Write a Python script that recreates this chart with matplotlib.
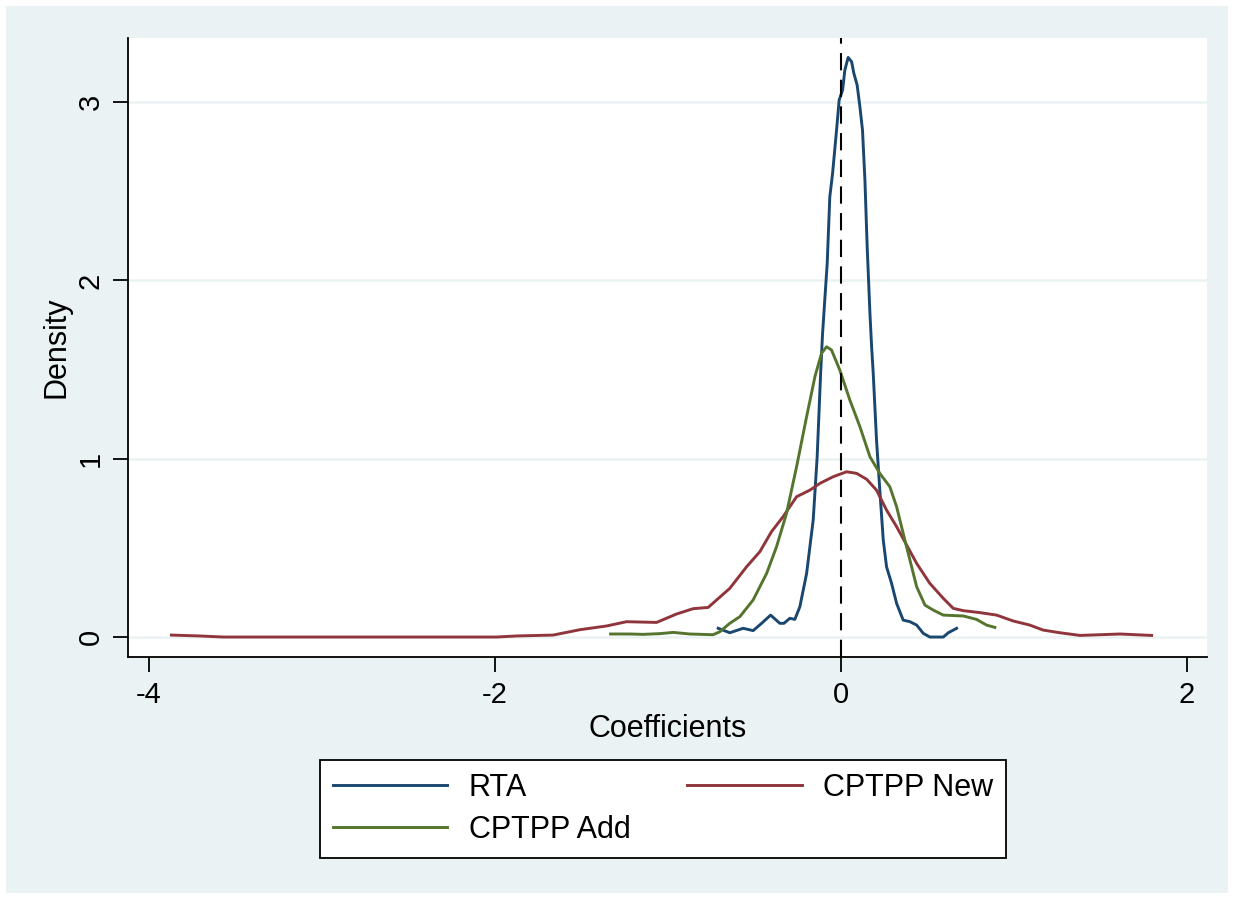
import matplotlib
matplotlib.use("Agg")
import matplotlib.pyplot as plt
from matplotlib.patches import Rectangle

plt.rcParams['font.family'] = ['Liberation Sans', 'DejaVu Sans']

# kernel density curves
rta_x = [-0.709, -0.642, -0.565, -0.507, -0.458, -0.406, -0.353, -0.329, -0.295, -0.266,
         -0.237, -0.198, -0.160, -0.137, -0.117, -0.106, -0.079, -0.064, -0.048,
         -0.025, -0.010, 0.010, 0.023, 0.042, 0.062, 0.075, 0.094, 0.110, 0.125, 0.139,
         0.152, 0.168, 0.177, 0.187, 0.206, 0.225, 0.245, 0.264, 0.293, 0.322, 0.360,
         0.399, 0.438, 0.476, 0.514, 0.592, 0.621, 0.669]
rta_y = [0.049, 0.024, 0.049, 0.036, 0.077, 0.123, 0.077, 0.077, 0.105, 0.099,
         0.170, 0.357, 0.656, 1.011, 1.479, 1.700, 2.096, 2.469, 2.600,
         2.843, 3.012, 3.068, 3.180, 3.251, 3.227, 3.162, 3.096, 2.974, 2.843, 2.563,
         2.189, 1.815, 1.640, 1.479, 1.105, 0.824, 0.544, 0.394, 0.301, 0.189, 0.095,
         0.086, 0.067, 0.021, 0.0, 0.0, 0.024, 0.049]

add_x = [-1.331, -1.220, -1.143, -1.046, -0.969, -0.873, -0.738, -0.699, -0.642, -0.584,
         -0.507, -0.429, -0.372, -0.314, -0.256, -0.198, -0.150, -0.112, -0.083, -0.054,
         -0.006, 0.052, 0.110, 0.168, 0.225, 0.283, 0.322, 0.360, 0.399, 0.438, 0.486,
         0.534, 0.592, 0.708, 0.784, 0.842, 0.890]
add_y = [0.017, 0.017, 0.015, 0.019, 0.026, 0.017, 0.013, 0.030, 0.077, 0.114,
         0.208, 0.357, 0.506, 0.694, 0.955, 1.236, 1.460, 1.591, 1.628, 1.610,
         1.497, 1.329, 1.180, 1.011, 0.918, 0.843, 0.731, 0.582, 0.432, 0.282, 0.179,
         0.151, 0.123, 0.118, 0.099, 0.067, 0.054]

new_x = [-3.869, -3.705, -3.570, -3.0, -2.5, -1.990, -1.875, -1.663, -1.509, -1.354,
         -1.239, -1.065, -0.950, -0.854, -0.767, -0.718, -0.642, -0.545, -0.468, -0.401,
         -0.334, -0.256, -0.179, -0.121, -0.045, 0.033, 0.091, 0.149, 0.206, 0.264,
         0.322, 0.380, 0.438, 0.514, 0.592, 0.649, 0.707, 0.803, 0.900, 0.996, 1.092,
         1.169, 1.266, 1.382, 1.613, 1.796]
new_y = [0.011, 0.006, 0.0, 0.0, 0.0, 0.0, 0.006, 0.011, 0.041, 0.062,
         0.086, 0.082, 0.129, 0.159, 0.166, 0.208, 0.273, 0.394, 0.479, 0.591,
         0.675, 0.787, 0.824, 0.862, 0.899, 0.927, 0.918, 0.885, 0.824, 0.712,
         0.619, 0.516, 0.413, 0.301, 0.217, 0.161, 0.148, 0.137, 0.123, 0.090, 0.067,
         0.039, 0.024, 0.009, 0.017, 0.009]

x_ticks = [-4, -2, 0, 2]
y_ticks = [0, 1, 2, 3]

BG = "#EAF2F3"
NAVY, MAROON, GREEN = "#1a476f", "#90353b", "#55752f"
FS = 21

fig = plt.figure(figsize=(12.34, 8.99), dpi=100, facecolor="white")
fig.patches.append(Rectangle((6 / 1234, 6 / 899), 1 - 12 / 1234, 1 - 12 / 899,
                             transform=fig.transFigure, facecolor=BG, edgecolor="none", zorder=-10))

ax = fig.add_axes([128 / 1234, 1 - 657 / 899, (1207 - 128) / 1234, (657 - 38) / 899])
ax.set_facecolor("white")

for yv in y_ticks:
    ax.axhline(yv, color=BG, lw=1.8, zorder=0)

l1, = ax.plot(rta_x, rta_y, color=NAVY, lw=2.1, label="RTA")
l2, = ax.plot(new_x, new_y, color=MAROON, lw=2.1, label="CPTPP New")
l3, = ax.plot(add_x, add_y, color=GREEN, lw=2.1, label="CPTPP Add")
ax.axvline(0, color="black", lw=1.5, ls=(0, (8.3, 4.5)), zorder=5)

ax.set_xlim(-4.12, 2.116)
ax.set_ylim(-0.112, 3.36)
ax.set_xticks(x_ticks)
ax.set_yticks(y_ticks)
ax.set_xticklabels([str(v) if v >= 0 else "-" + str(-v) for v in x_ticks])
ax.tick_params(axis="both", direction="out", length=11, width=1.3, labelsize=FS, pad=6)
ax.tick_params(axis="y", labelrotation=90)
for lab in ax.get_yticklabels():
    lab.set_va("center")
for s in ["top", "right"]:
    ax.spines[s].set_visible(False)
for s in ["left", "bottom"]:
    ax.spines[s].set_linewidth(1.3)

ax.set_xlabel("Coefficients", fontsize=22, labelpad=4)
ax.set_ylabel("Density", fontsize=22, labelpad=3.5)

leg = fig.legend([l1, l3, l2], ["RTA", "CPTPP Add", "CPTPP New"], ncol=2,
                 loc="upper left", bbox_to_anchor=(320 / 1234, 1 - 760 / 899),
                 fontsize=22, frameon=True, fancybox=False, framealpha=1,
                 handlelength=3.75, handletextpad=0.7, borderaxespad=0, labelspacing=0.4,
                 columnspacing=1.85, borderpad=0.42)
leg.get_frame().set_edgecolor("black")
leg.get_frame().set_facecolor("white")
leg.get_frame().set_linewidth(1.3)

fig.savefig("out.png", dpi=100, facecolor=fig.get_facecolor())
